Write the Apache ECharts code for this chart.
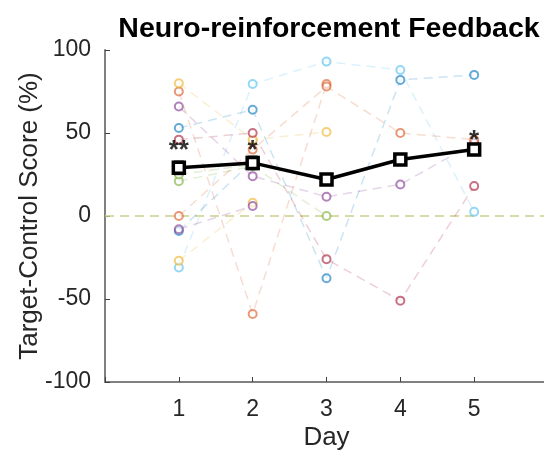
<!DOCTYPE html>
<html>
<head>
<meta charset="utf-8">
<script src="https://cdn.jsdelivr.net/npm/echarts@6/dist/echarts.min.js"></script>
<style>
html,body{margin:0;padding:0;background:#fff;}
#chart{width:544px;height:452px;}
</style>
</head>
<body>
<div id="chart"></div>
<script>
// ---- data ----
const days = [1, 2, 3, 4, 5];
const yTicks = [-100, -50, 0, 50, 100];
// individual subjects (score per day, null = no session)
const s01 = [53, 64, -37.5, 82, 85];
const s02 = [75, -59, 79.5, null, null];
const s03 = [80, 46, 50.6, null, null];
const s04 = [66, 24, 11.6, 19, 44];
const s05 = [21, 30, 0, null, null];
const s06 = [-31, 79.5, 93, 88, 2.5];
const s07 = [46, 50, -26, -51, 18];
const s08 = [-9, 33, null, null, null];
const s09 = [0, 40, 78, 50, 46];
const s10 = [-27, 8, null, null, null];
const s11 = [-8, 6, null, null, null];
const s12 = [25, 31, null, null, null];
const subjects = [s01, s02, s03, s04, s05, s06, s07, s08, s09, s10, s11, s12];
// group mean and its error
const meanScore = [29, 32, 22, 34, 40];
const meanErr = [3.5, 3.5, 3, 3, 3];
// significance markers
const sigText = ['**', '*', '', '', '*'];
const sigY = [43, 43, null, null, 49];

// ---- style ----
const palette = ['#0072BD', '#D95319', '#EDB120', '#7E2F8E', '#77AC30', '#4DBEEE', '#A2142F'];

const series = [];
subjects.forEach((s, i) => {
  const c = palette[i % palette.length];
  series.push({
    type: 'line',
    data: days.map((d, k) => [d, s[k]]),
    connectNulls: false,
    symbol: 'emptyCircle',
    symbolSize: 8,
    itemStyle: { color: c, opacity: 0.6, borderWidth: 1.5 },
    lineStyle: { color: c, width: 1.5, type: [9, 6], opacity: 0.2 },
    z: 2,
    silent: true
  });
});

// zero reference line
series.push({
  type: 'line',
  data: [[0, 0], [6, 0]],
  symbol: 'none',
  lineStyle: { color: '#c9cf8a', width: 1.5, type: [9, 6] },
  z: 1,
  silent: true
});

// error bars
series.push({
  type: 'custom',
  data: days.map((d, k) => [d, meanScore[k] - meanErr[k], meanScore[k] + meanErr[k]]),
  renderItem: function (params, api) {
    const x = api.value(0);
    const lo = api.coord([x, api.value(1)]);
    const hi = api.coord([x, api.value(2)]);
    const w = 5;
    const st = { stroke: '#000', lineWidth: 3 };
    return {
      type: 'group',
      children: [
        { type: 'line', shape: { x1: lo[0], y1: lo[1], x2: hi[0], y2: hi[1] }, style: st },
        { type: 'line', shape: { x1: lo[0] - w, y1: lo[1], x2: lo[0] + w, y2: lo[1] }, style: st },
        { type: 'line', shape: { x1: hi[0] - w, y1: hi[1], x2: hi[0] + w, y2: hi[1] }, style: st }
      ]
    };
  },
  z: 10
});

// mean line
series.push({
  type: 'line',
  data: days.map((d, k) => [d, meanScore[k]]),
  symbol: 'rect',
  symbolSize: 11,
  itemStyle: { color: '#fff', borderColor: '#000', borderWidth: 3.5 },
  lineStyle: { color: '#000', width: 3.5 },
  z: 11
});

// stars
series.push({
  type: 'scatter',
  data: days.map((d, k) => [d, sigY[k]]).filter(p => p[1] !== null),
  symbolSize: 0,
  label: {
    show: true,
    position: 'inside',
    offset: [0, 6],
    formatter: function (p) { return sigText[days.indexOf(p.value[0])]; },
    fontSize: 26,
    fontWeight: 'bold',
    color: '#000',
    fontFamily: 'Liberation Sans'
  },
  z: 12
});

const chart = echarts.init(document.getElementById('chart'), null, { renderer: 'canvas' });
chart.setOption({
  animation: false,
  backgroundColor: '#fff',
  title: {
    text: 'Neuro-reinforcement Feedback',
    left: 324,
    textAlign: 'center',
    top: 10,
    textStyle: { fontFamily: 'Liberation Sans', fontWeight: 'bold', fontSize: 28.5, color: '#000' }
  },
  grid: { left: 105, top: 50, width: 443, height: 332, containLabel: false, outerBoundsMode: 'none' },
  xAxis: {
    type: 'value',
    min: 0, max: 6, interval: 1,
    name: 'Day',
    nameLocation: 'middle',
    nameGap: 43,
    nameMoveOverlap: false,
    nameTextStyle: { fontFamily: 'Liberation Sans', fontSize: 26, color: '#262626' },
    axisLine: { show: true, onZero: false, lineStyle: { color: '#808080', width: 2 } },
    axisTick: { show: true, inside: true, length: 5, lineStyle: { color: '#404040' } },
    axisLabel: {
      fontFamily: 'Liberation Sans', fontSize: 23, color: '#262626', margin: 16,
      formatter: function (v) { return (v >= 1 && v <= 5) ? String(v) : ''; }
    },
    splitLine: { show: false }
  },
  yAxis: {
    type: 'value',
    min: -100, max: 100, interval: 50,
    name: 'Target-Control Score (%)',
    nameLocation: 'middle',
    nameGap: 62,
    nameMoveOverlap: false,
    nameTextStyle: { fontFamily: 'Liberation Sans', fontSize: 26, color: '#262626' },
    axisLine: { show: true, onZero: false, lineStyle: { color: '#808080', width: 2 } },
    axisTick: { show: true, inside: true, length: 5, lineStyle: { color: '#404040' } },
    axisLabel: {
      fontFamily: 'Liberation Sans', fontSize: 23, color: '#262626', margin: 14,
      formatter: function (v) { return yTicks.indexOf(v) >= 0 ? String(v) : ''; }
    },
    splitLine: { show: false }
  },
  series: series
});
</script>
</body>
</html>
